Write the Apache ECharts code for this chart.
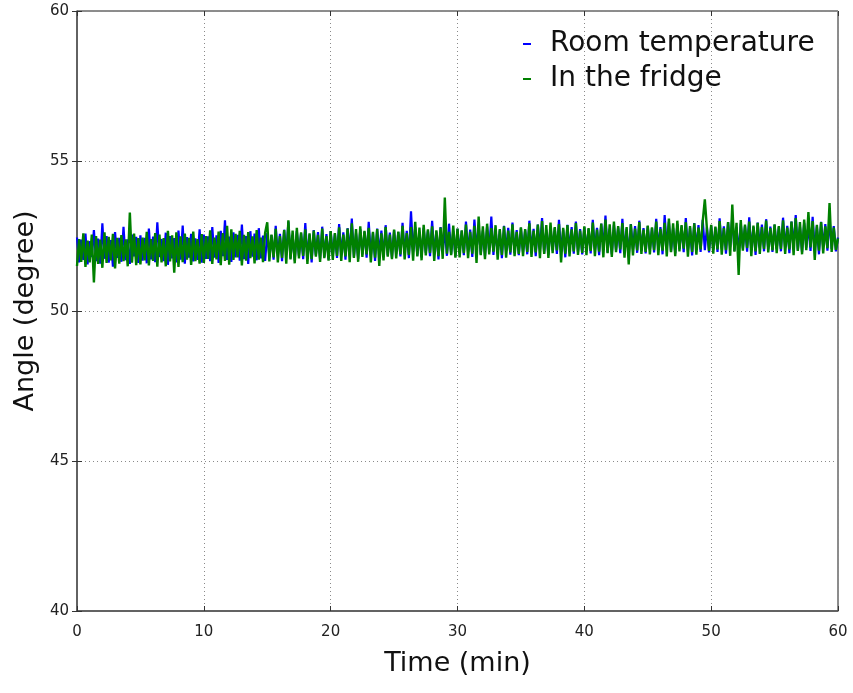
<!DOCTYPE html>
<html>
<head>
<meta charset="utf-8">
<script src="https://cdn.jsdelivr.net/npm/echarts@6/dist/echarts.min.js"></script>
<style>
  html, body { margin: 0; padding: 0; background: #fff; }
  #chart { width: 853px; height: 693px; }
</style>
</head>
<body>
<div id="chart"></div>
<script>
// Pendulum angle (degree) sampled every 10 s over one hour
var seriesNames = ['Room temperature', 'In the fridge'];
var xTicks = [0, 10, 20, 30, 40, 50, 60];
var yTicks = [40, 45, 50, 55, 60];
var durationMin = 60;

var roomTemp = [
  52.45,51.62,52.38,51.70,52.58,51.55,52.33,51.80,52.70,51.66,52.41,51.58,52.92,51.74,52.50,51.61,52.36,51.48,52.63,51.77,52.44,51.64,52.81,51.69,52.39,51.57,52.55,51.82,52.47,51.60,
  52.52,51.68,52.44,51.59,52.75,51.72,52.48,51.63,52.96,51.80,52.40,51.66,52.61,51.54,52.50,51.75,52.43,51.62,52.68,51.71,52.85,51.58,52.46,51.78,52.57,51.65,52.42,51.70,52.72,51.61,
  52.55,51.74,52.49,51.66,52.80,51.78,52.52,51.60,52.67,51.83,53.02,51.70,52.48,51.64,52.62,51.79,52.54,51.68,52.88,51.73,52.50,51.57,52.66,51.81,52.58,51.69,52.76,51.75,52.51,51.67,
  52.60,51.80,52.53,51.71,52.84,51.83,52.57,51.66,52.71,51.88,52.98,51.75,52.54,51.69,52.66,51.84,52.59,51.73,52.93,51.78,52.55,51.62,52.70,51.86,52.63,51.74,52.81,51.80,52.56,51.72,
  52.66,51.85,52.58,51.77,52.90,51.88,52.62,51.71,52.76,51.93,53.08,51.80,52.59,51.74,52.72,51.89,52.64,51.78,52.97,51.83,52.60,51.67,52.75,51.91,52.68,51.79,52.86,51.85,52.61,51.77,
  52.70,51.90,52.63,51.82,52.94,51.93,52.67,51.76,53.32,51.98,52.80,51.85,52.64,51.79,52.77,51.94,52.69,51.83,53.01,51.88,52.65,51.72,52.80,51.96,52.73,51.84,52.91,51.90,52.66,51.82,
  52.74,51.94,52.67,51.86,52.98,51.97,52.71,51.80,53.05,52.02,52.84,51.89,52.68,51.83,52.81,51.98,53.15,51.87,52.73,51.92,52.69,51.76,52.84,52.00,52.77,51.88,52.95,51.94,52.70,51.86,
  52.77,51.97,52.70,51.89,53.01,52.00,52.74,51.83,52.88,52.05,53.10,51.92,52.71,51.86,52.84,52.01,52.76,51.90,53.04,51.95,52.72,51.79,52.87,52.03,52.80,51.91,52.98,51.97,52.73,51.89,
  52.80,52.00,52.73,51.92,53.04,52.03,52.77,51.86,52.91,52.08,53.18,51.95,52.74,51.89,52.87,52.04,52.79,51.93,53.07,51.98,52.75,51.82,52.90,52.06,52.83,51.94,53.01,52.00,52.76,51.92,
  52.83,52.03,52.76,51.95,53.07,52.06,52.80,51.89,53.20,52.11,52.97,51.98,52.77,51.92,52.90,52.07,52.82,51.96,53.10,52.01,52.78,51.85,52.93,52.09,52.86,51.97,53.04,52.03,52.79,51.95,
  52.85,52.05,52.78,51.97,53.09,52.08,52.82,51.91,52.96,52.13,53.16,52.00,52.79,51.94,52.92,52.09,52.84,51.98,53.12,52.03,52.80,51.87,52.95,52.11,52.88,51.99,53.06,52.05,52.81,51.97,
  52.87,52.07,52.80,51.99,53.11,52.10,52.84,51.93,52.98,52.15,53.20,52.02,52.81,51.96,52.94,52.11,52.86,52.00,53.14,52.05,52.82,51.89,52.97,52.13,52.90,52.01,53.08,52.07,52.83,51.99,
  52.45
];

var fridge = [
  51.50,52.40,51.64,52.59,51.47,52.35,51.62,52.55,50.95,52.50,51.57,52.38,51.44,52.62,51.60,52.47,51.69,52.57,51.42,52.44,51.58,52.53,51.66,52.39,51.49,53.28,51.61,52.58,51.53,52.43,
  51.55,52.45,51.69,52.64,51.52,52.40,51.67,52.60,51.48,52.55,51.62,52.43,51.49,52.67,51.65,52.52,51.28,52.62,51.47,52.49,51.63,52.58,51.71,52.44,51.54,52.65,51.66,52.40,51.58,52.56,
  51.60,52.50,51.74,52.69,51.57,52.45,51.72,52.65,51.53,52.60,51.67,52.84,51.54,52.72,51.70,52.57,51.79,52.67,51.52,52.54,51.68,52.63,51.76,52.49,51.59,52.70,51.71,52.45,51.63,52.61,
  52.96,51.65,52.55,51.79,52.74,51.62,52.50,51.77,52.70,51.58,53.02,51.72,52.68,51.59,52.77,51.75,52.62,51.84,52.72,51.57,52.59,51.73,52.68,51.81,52.54,51.64,52.75,51.76,52.50,51.68,
  52.66,51.70,52.60,51.84,52.79,51.67,52.55,51.82,52.75,51.63,52.92,51.77,52.73,51.64,52.82,51.80,52.67,51.89,52.77,51.62,52.64,51.78,52.73,51.50,52.59,51.69,52.80,51.81,52.55,51.73,
  52.71,51.75,52.65,51.89,52.84,51.72,52.60,51.87,52.80,51.68,52.97,51.82,52.78,51.69,52.87,51.85,52.72,51.94,52.82,51.67,52.69,51.83,52.78,51.74,53.78,51.91,52.64,51.86,52.85,51.78,
  52.75,51.79,52.69,51.93,52.88,51.76,52.64,51.91,52.84,51.60,53.15,51.86,52.82,51.73,52.91,51.89,52.76,51.98,52.86,51.71,52.73,51.87,52.82,51.78,52.68,51.95,52.89,51.83,52.64,51.90,
  52.79,51.83,52.73,51.97,52.92,51.80,52.68,51.95,52.88,51.76,53.00,51.90,52.86,51.77,52.95,51.93,52.80,52.02,52.90,51.62,52.77,51.91,52.86,51.82,52.72,51.99,52.93,51.87,52.68,51.94,
  52.82,51.86,52.76,52.00,52.95,51.83,52.71,51.98,52.91,51.79,53.05,51.93,52.89,51.80,52.98,51.96,52.83,52.05,52.93,51.78,52.80,51.55,52.89,51.85,52.75,52.02,52.96,51.90,52.71,51.97,
  52.85,51.89,52.79,52.03,52.98,51.86,52.74,52.01,52.94,51.82,53.08,51.96,52.92,51.83,53.01,51.99,52.86,52.08,52.96,51.81,52.83,51.97,52.92,51.88,52.78,52.05,52.99,53.72,52.74,52.00,
  52.87,51.91,52.81,52.05,53.00,51.88,52.76,52.03,52.96,51.84,53.55,51.98,52.94,51.20,53.03,52.01,52.88,52.10,52.98,51.83,52.85,51.99,52.94,51.90,52.80,52.07,53.01,51.95,52.76,52.02,
  52.89,51.93,52.83,52.07,53.02,51.90,52.78,52.05,52.98,51.86,53.10,52.00,52.96,51.89,53.05,52.03,53.30,52.12,53.00,51.70,52.87,52.01,52.96,51.92,52.82,52.09,53.60,51.97,52.78,52.04,
  52.42
];

// pair each reading with its sample time in minutes
function withTimes(values) {
  var step = durationMin / (values.length - 1);
  return values.map(function (v, i) { return [i * step, v]; });
}

var FONT = 'DejaVu Sans';
var chart = echarts.init(document.getElementById('chart'), null, { renderer: 'canvas' });

var dotted = { show: true, lineStyle: { color: '#8a8a8a', width: 1, type: [1, 3] } };

chart.setOption({
  animation: false,
  backgroundColor: '#ffffff',
  grid: {
    left: 77, right: 15, top: 11, bottom: 82,
    show: true, borderColor: '#1a1a1a', borderWidth: 1, backgroundColor: 'transparent'
  },
  legend: {
    data: seriesNames,
    orient: 'vertical',
    left: 518, top: 25,
    itemWidth: 8, itemHeight: 2, itemGap: 7,
    icon: 'rect',
    textStyle: { fontFamily: FONT, fontSize: 28, color: '#111', padding: [0, 0, 0, 14] }
  },
  xAxis: [{
    type: 'value', min: xTicks[0], max: xTicks[xTicks.length - 1], interval: 10,
    name: 'Time (min)', nameLocation: 'middle', nameGap: 39,
    nameTextStyle: { fontFamily: FONT, fontSize: 27, color: '#111' },
    axisLine: { show: true, onZero: false, lineStyle: { color: '#555', width: 1.5 } },
    axisTick: { show: true, inside: true, length: 5, lineStyle: { color: '#333' } },
    axisLabel: { fontFamily: FONT, fontSize: 15, color: '#222', margin: 14 },
    splitLine: dotted
  }, {
    type: 'value', position: 'top', min: 0, max: 60, interval: 10,
    axisLine: { show: false },
    axisTick: { show: true, inside: true, length: 5, lineStyle: { color: '#333' } },
    axisLabel: { show: false }, splitLine: { show: false }
  }],
  yAxis: [{
    type: 'value', min: yTicks[0], max: yTicks[yTicks.length - 1], interval: 5,
    name: 'Angle (degree)', nameLocation: 'middle', nameGap: 36,
    nameTextStyle: { fontFamily: FONT, fontSize: 27, color: '#111' },
    axisLine: { show: true, onZero: false, lineStyle: { color: '#555', width: 1.5 } },
    axisTick: { show: true, inside: true, length: 5, lineStyle: { color: '#333' } },
    axisLabel: { fontFamily: FONT, fontSize: 15, color: '#222', margin: 8 },
    splitLine: dotted
  }, {
    type: 'value', position: 'right', min: 40, max: 60, interval: 5,
    axisLine: { show: false },
    axisTick: { show: true, inside: true, length: 5, lineStyle: { color: '#333' } },
    axisLabel: { show: false }, splitLine: { show: false }
  }],
  series: [{
    name: seriesNames[0], type: 'line', xAxisIndex: 0, yAxisIndex: 0,
    data: withTimes(roomTemp), showSymbol: false, symbol: 'none',
    color: '#0000ff', lineStyle: { color: '#0000ff', width: 2.2 }, z: 2
  }, {
    name: seriesNames[1], type: 'line', xAxisIndex: 0, yAxisIndex: 0,
    data: withTimes(fridge), showSymbol: false, symbol: 'none',
    color: '#008000', lineStyle: { color: '#008000', width: 2.4 }, z: 3
  }]
});
</script>
</body>
</html>
